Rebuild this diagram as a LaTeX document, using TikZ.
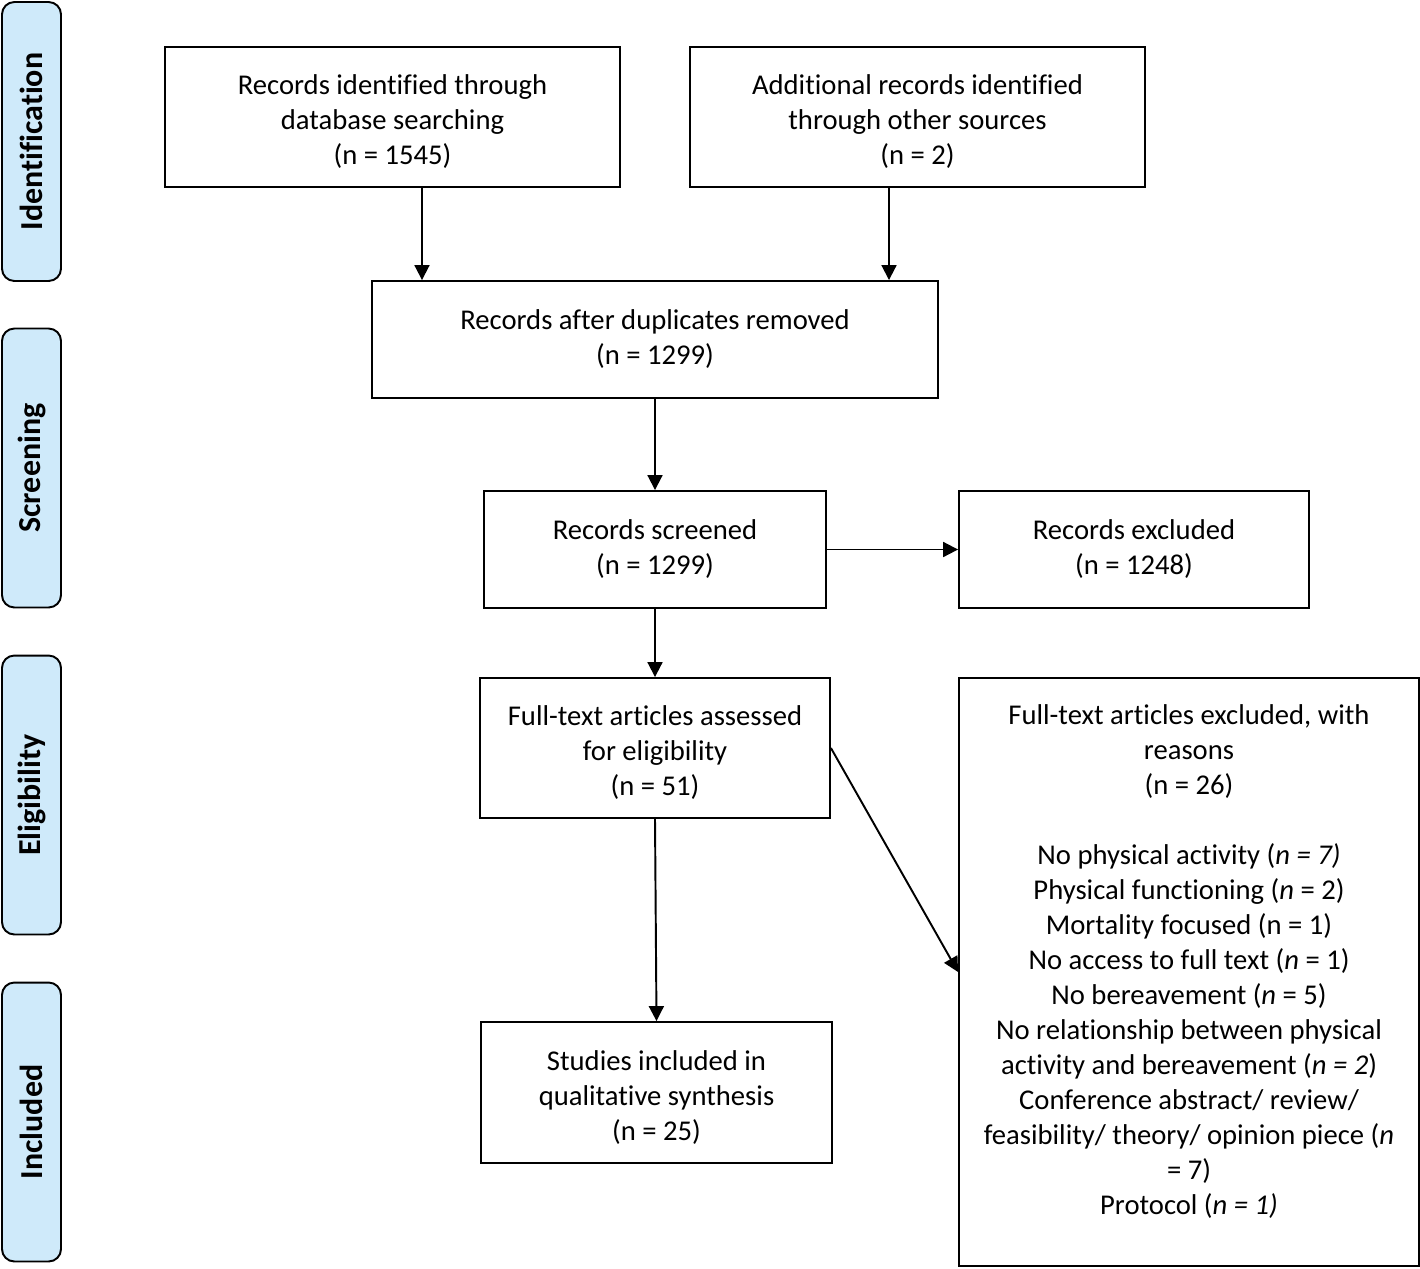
\documentclass[tikz,border=0pt]{standalone}
\usepackage{fontspec}
\setmainfont{Carlito}[Ligatures=NoCommon]
\usetikzlibrary{arrows.meta}
\definecolor{phaseblue}{HTML}{CFEAFA}
\newcommand{\lowtext}{\rule{0pt}{17pt}}

\begin{document}
\begin{tikzpicture}[x=0.02cm, y=-0.02cm,
    every node/.style = {font=\fontsize{16.3}{19.9}\selectfont},
    box/.style = {draw, line width=1.1pt, align=center, inner sep=2pt},
    phase/.style = {draw, line width=1.1pt, fill=phaseblue, rounded corners=7pt,
        rotate=90, minimum width=5.58cm, minimum height=1.18cm,
        font=\fontsize{18.2}{20}\selectfont\bfseries},
    arr/.style = {line width=1.1pt, -{Triangle[width=8.5pt,length=8.5pt]}}]
            \useasboundingbox (0,0) rectangle (1420,1268);
            % phase labels
            \node[phase] (ident) at (31.5,141.5) {Identification};
            \node[phase] (screen) at (31.5,468) {Screening};
            \node[phase] (elig) at (31.5,795) {Eligibility};
            \node[phase] (incl) at (31.5,1122) {Included};
            % boxes
            \node[box, minimum width=9.1cm, minimum height=2.8cm] (db) at (392.5,117)
                {\lowtext Records identified through\\database searching\\(n = 1545)};
            \node[box, minimum width=9.1cm, minimum height=2.8cm] (other) at (917.5,117)
                {\lowtext Additional records identified\\through other sources\\(n = 2)};
            \node[box, minimum width=11.32cm, minimum height=2.34cm] (dup) at (655,339.5)
                {Records after duplicates removed\\(n = 1299)};
            \node[box, minimum width=6.84cm, minimum height=2.34cm] (screened) at (655,549.5)
                {Records screened\\(n = 1299)};
            \node[box, minimum width=7cm, minimum height=2.34cm] (excl) at (1134,549.5)
                {Records excluded\\(n = 1248)};
            \node[box, minimum width=7cm, minimum height=2.8cm] (full) at (655,748)
                {\lowtext Full-text articles assessed\\for eligibility\\(n = 51)};
            \node[box, minimum width=7.02cm, minimum height=2.82cm] (studies) at (656.5,1092.5)
                {\lowtext Studies included in\\qualitative synthesis\\(n = 25)};
            \node[box, minimum width=9.2cm, minimum height=11.76cm] (fte) at (1189,972)
                {Full-text articles excluded, with\\reasons\\(n = 26)\\[19.9pt]
                No physical activity (\textit{n = 7)}\\
                Physical functioning (\textit{n} = 2)\\
                Mortality focused (n = 1)\\
                No access to full text (\textit{n} = 1)\\
                No bereavement (\textit{n} = 5)\\
                No relationship between physical\\
                activity and bereavement (\textit{n = 2})\\
                Conference abstract/ review/\\
                feasibility/ theory/ opinion piece (\textit{n}\\
                = 7)\\
                Protocol (\textit{n = 1)}\rule[-14pt]{0pt}{0pt}};
            % arrows
            \draw[arr] ([xshift=0.59cm]db.south) -- ([xshift=0.59cm]db.south |- dup.north);
            \draw[arr] ([xshift=-0.57cm]other.south) -- ([xshift=-0.57cm]other.south |- dup.north);
            \draw[arr] (dup) -- (screened);
            \draw[arr] (screened) -- (excl);
            \draw[arr] (screened) -- (full);
            \draw[arr] (full.south) -- (studies.north);
            \draw[arr] (full.east) -- (fte.west);
        \end{tikzpicture}
\end{document}
